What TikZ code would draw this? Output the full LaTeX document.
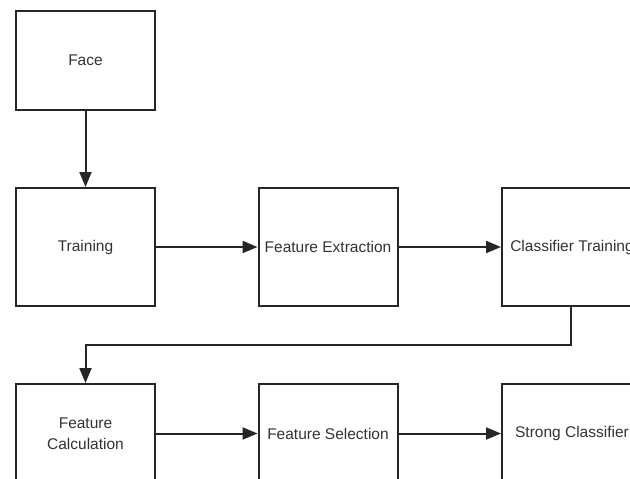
\documentclass[tikz,border=0pt]{standalone}
\usepackage{fontspec}
\setmainfont{Liberation Sans}
\usetikzlibrary{arrows.meta}
\definecolor{linec}{HTML}{262626}
\definecolor{textc}{HTML}{333333}
\begin{document}
\begin{tikzpicture}[x=1pt,y=-1pt,
  box/.style={draw=linec,line width=2pt,fill=white,inner sep=0pt,align=center,
    text=textc,font=\fontsize{15.5}{21}\selectfont},
  toprow/.style={box,minimum width=139pt,minimum height=118pt},
  botrow/.style={box,minimum width=139pt,minimum height=99pt},
  conn/.style={draw=linec,line width=2pt,-{Triangle[length=15pt,width=12pt]}}]
\useasboundingbox (0,0) rectangle (630,479);
\clip (0,0) rectangle (630,479);
\fill[white] (0,0) rectangle (630,479);
\node[box,minimum width=139pt,minimum height=99pt] (face) at (85.5,60.5) {Face};
\node[toprow] (train) at (85.5,247) {Training};
\node[toprow] (fext) at (328,247) {Feature Extraction};
\node[toprow,minimum width=140pt] (ctrain) at (572,247) {Classifier Training};
\node[botrow] (fcalc) at (85.5,433.5) {Feature\\Calculation};
\node[botrow] (fsel) at (328,433.5) {Feature Selection};
\node[botrow,minimum width=140pt] (strong) at (572,433.5) {Strong Classifier};
\coordinate (bendR) at (571,345);
\coordinate (bendL) at (85.5,345);
\draw[conn] (face) -- (train);
\draw[conn] (train) -- (fext);
\draw[conn] (fext) -- (ctrain);
\draw[conn] (ctrain.south -| bendR) -- (bendR) -- (bendL) -- (fcalc);
\draw[conn] (fcalc) -- (fsel);
\draw[conn] (fsel) -- (strong);
\end{tikzpicture}
\end{document}
